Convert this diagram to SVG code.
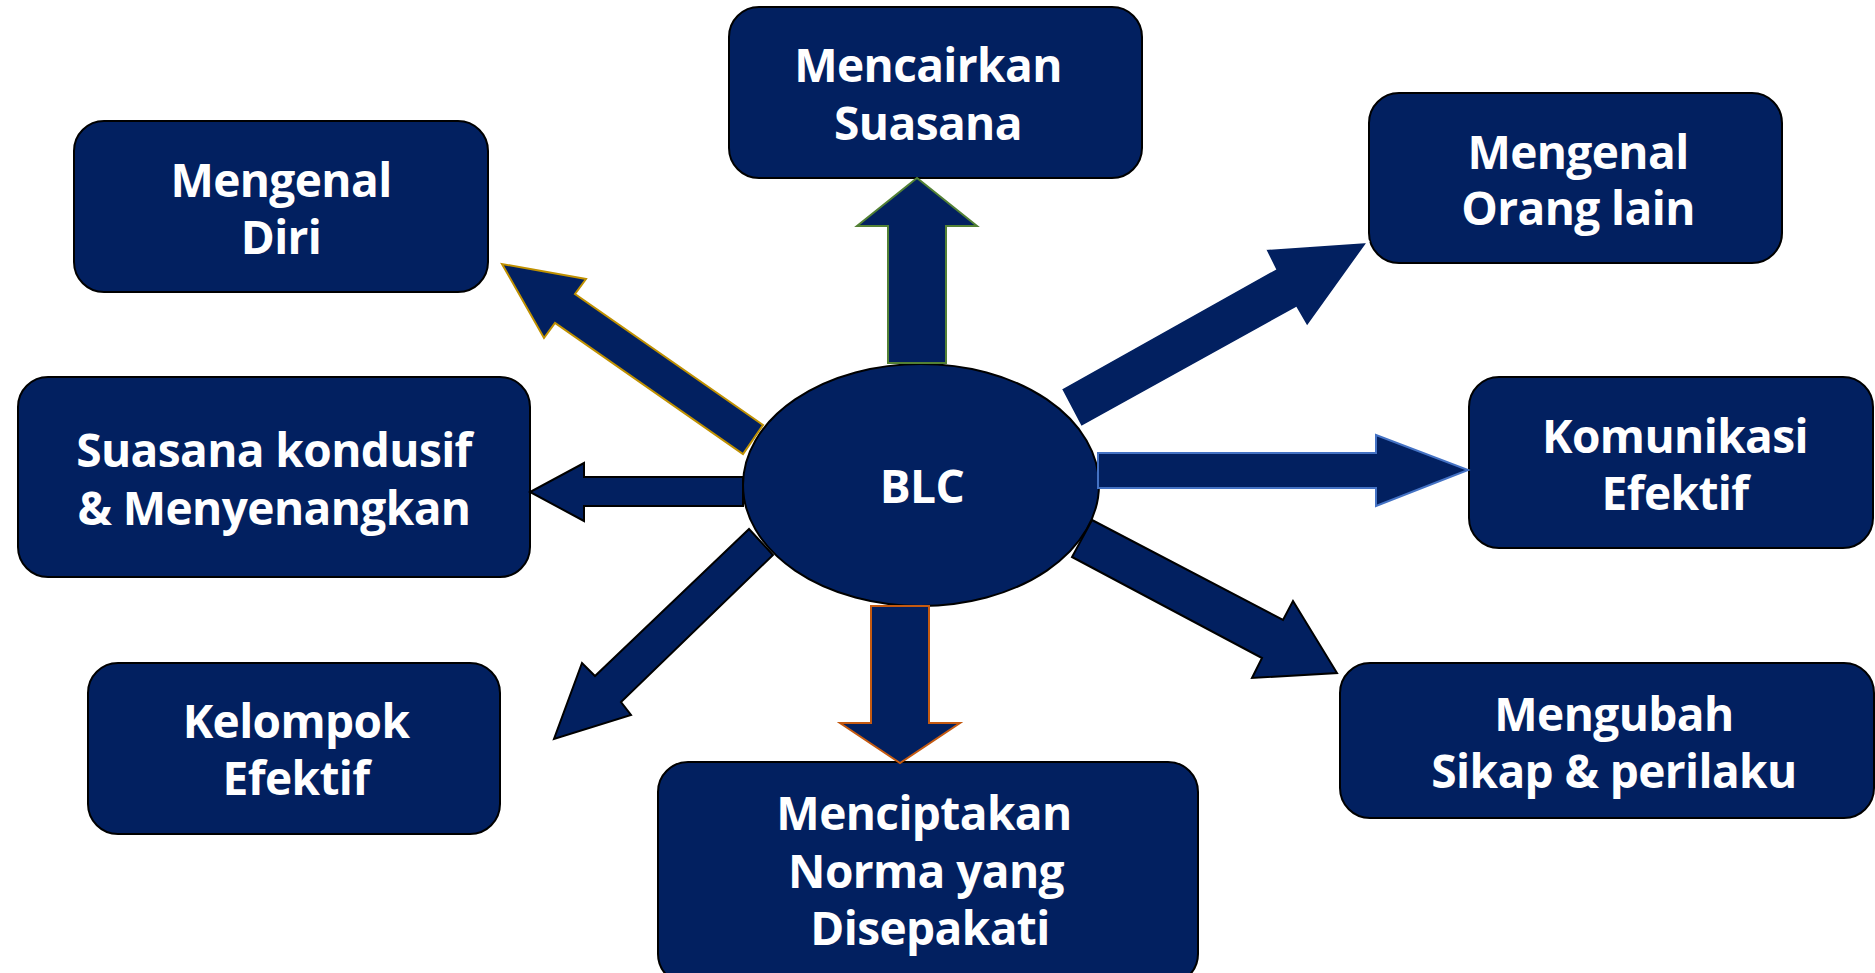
<svg xmlns="http://www.w3.org/2000/svg" width="1875" height="973" viewBox="0 0 1875 973">
<style>
.box{fill:#022060;stroke:#000;stroke-width:2}
.lbl{font-family:"Open Sans","Noto Sans","DejaVu Sans",sans-serif;font-weight:bold;font-size:46px;letter-spacing:-0.6px;fill:#fff;text-anchor:middle}
.arr{fill:#022060;stroke-width:2;stroke-linejoin:miter}
</style>
<rect width="1875" height="973" fill="#fff"/>
<g id="node-blc">
<ellipse cx="921" cy="485" rx="178" ry="121" class="box"/>
<text class="lbl" x="922" y="503" font-size="48">BLC</text>
</g>
<g id="node-mencairkan">
<rect x="729" y="7" width="413" height="171" rx="30" class="box"/>
<text class="lbl" x="928" y="82">Mencairkan</text>
<text class="lbl" x="928" y="140">Suasana</text>
</g>
<g id="node-mengenal-diri">
<rect x="74" y="121" width="414" height="171" rx="30" class="box"/>
<text class="lbl" x="281" y="197">Mengenal</text>
<text class="lbl" x="281" y="254">Diri</text>
</g>
<g id="node-mengenal-orang">
<rect x="1369" y="93" width="413" height="170" rx="30" class="box"/>
<text class="lbl" x="1578" y="169">Mengenal</text>
<text class="lbl" x="1578" y="225">Orang lain</text>
</g>
<g id="node-suasana">
<rect x="18" y="377" width="512" height="200" rx="30" class="box"/>
<text class="lbl" x="274" y="467">Suasana kondusif</text>
<text class="lbl" x="274" y="525">&amp; Menyenangkan</text>
</g>
<g id="node-komunikasi">
<rect x="1469" y="377" width="404" height="171" rx="30" class="box"/>
<text class="lbl" x="1675" y="453">Komunikasi</text>
<text class="lbl" x="1675" y="510">Efektif</text>
</g>
<g id="node-kelompok">
<rect x="88" y="663" width="412" height="171" rx="30" class="box"/>
<text class="lbl" x="296" y="738">Kelompok</text>
<text class="lbl" x="296" y="795">Efektif</text>
</g>
<g id="node-mengubah">
<rect x="1340" y="663" width="534" height="155" rx="30" class="box"/>
<text class="lbl" x="1614" y="731">Mengubah</text>
<text class="lbl" x="1614" y="788">Sikap &amp; perilaku</text>
</g>
<g id="node-menciptakan">
<rect x="658" y="762" width="540" height="222" rx="30" class="box"/>
<text class="lbl" x="924" y="830">Menciptakan</text>
<text class="lbl" x="926" y="888">Norma yang</text>
<text class="lbl" x="930" y="945">Disepakati</text>
</g>
<g id="connectors">
<polygon class="arr" stroke="#538135" points="888,363 888,226 857,226 917,178 977,226 946,226 946,363"/>
<polygon class="arr" stroke="#C55A11" points="871,606 871,723 840,723 900,763 960,723 929,723 929,606"/>
<polygon class="arr" stroke="#000" points="743,477 584,477 584,463 530,492 584,521 584,506 743,506"/>
<polygon class="arr" stroke="#4472C4" points="1098,453 1376,453 1376,435 1468,470 1376,506 1376,488 1098,488"/>
<polygon class="arr" stroke="#BF9000" points="763,425 575,294 586,279 502,264 544,338 555,323 743,454"/>
<polygon class="arr" stroke="#fff" points="1061,389 1275,269 1265,249 1368,242 1307,327 1296,308 1081,427"/>
<polygon class="arr" stroke="#000" points="1092,520 1283,620 1293,601 1337,673 1252,678 1262,658 1072,557"/>
<polygon class="arr" stroke="#000" points="749,529 595,676 582,663 554,739 631,715 621,702 773,555"/>
</g>
</svg>
